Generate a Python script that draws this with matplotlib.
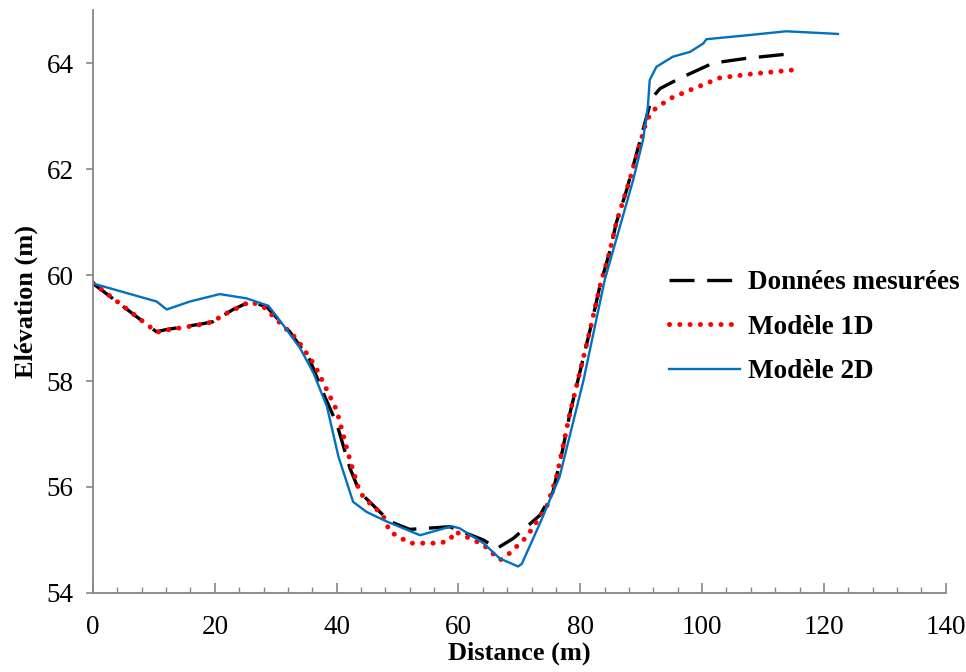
import numpy as np
import matplotlib
matplotlib.use("Agg")
import matplotlib.pyplot as plt
from matplotlib.ticker import MultipleLocator

# Données mesurées (black dashed)
x_mes = [0, 10.4, 12, 18, 19.7, 23, 25.8, 28.5, 32.3, 35.6, 37.8, 40.0, 42.2, 43.8,
         48.7, 52, 58.6, 64.1, 66.3, 69.0, 73.4, 75.5, 77.1, 78.3, 81.6, 83.2, 84.9,
         85.9, 87.6, 91.7, 93.1, 96.3, 101.8, 107.3, 114.9]
y_mes = [59.84, 58.93, 58.97, 59.08, 59.12, 59.35, 59.50, 59.40, 58.93, 58.40, 57.77,
         57.2, 56.35, 55.9, 55.35, 55.2, 55.25, 55.0, 54.84, 55.03, 55.47, 55.9, 56.7,
         57.39, 58.96, 59.78, 60.47, 60.98, 61.6, 63.33, 63.52, 63.71, 64.0, 64.09, 64.18]

# Modèle 1D (red dotted)
x_1d = [0, 10.5, 12, 18, 19.7, 21.4, 24.1, 25.8, 28, 32, 33.4, 36.4, 38.4, 40, 42.2,
        43.8, 44.9, 47.6, 48.7, 52, 57, 58.6, 59.4, 61.3, 64.1, 66.8, 68.4, 71.2, 74.5,
        76.1, 77.2, 78.3, 81.6, 83.2, 84.9, 85.9, 88.1, 90.9, 92, 94.7, 98, 102.9,
        107.8, 114.9]
y_1d = [59.85, 58.92, 58.96, 59.07, 59.12, 59.25, 59.4, 59.5, 59.4, 58.95, 58.8, 58.3,
        57.83, 57.45, 56.5, 55.9, 55.75, 55.47, 55.16, 54.94, 54.94, 55.0, 55.16, 55.06,
        54.91, 54.62, 54.75, 55.06, 55.63, 56.19, 56.79, 57.39, 58.96, 59.78, 60.47,
        60.98, 61.79, 62.92, 63.11, 63.33, 63.49, 63.72, 63.79, 63.87]

# Modèle 2D (blue solid)
x_2d = [0, 10.45, 12.1, 15.9, 20.8, 25.2, 28.8, 31.2, 34.0, 36.2, 38.4, 40.3, 42.7,
        44.9, 48.2, 53.7, 58.9, 60.2, 64.1, 66.8, 69.8, 70.4, 73.4, 76.6, 80.5, 84.0,
        88.7, 90.3, 91.1, 91.4, 92.5, 95.2, 98.0, 100.2, 100.7, 107, 113.8, 122.3]
y_2d = [59.84, 59.5, 59.35, 59.5, 59.64, 59.56, 59.42, 59.06, 58.62, 58.15, 57.52,
        56.57, 55.72, 55.53, 55.35, 55.09, 55.26, 55.22, 54.94, 54.65, 54.5, 54.55,
        55.32, 56.19, 58.0, 59.9, 61.8, 62.55, 63.18, 63.68, 63.93, 64.12, 64.21,
        64.37, 64.45, 64.52, 64.6, 64.55]

plt.rcParams['font.family'] = ['Liberation Serif', 'DejaVu Serif']

fig = plt.figure(figsize=(9.66, 6.72), dpi=100)
ax = fig.add_axes([0.0963, 0.1176, 0.8827, 0.8674])

ax.plot(x_mes, y_mes, color='black', lw=2.4, linestyle=(0, (7.5, 3.8)),
        label='Données mesurées')
ax.plot(x_1d, y_1d, color='#FF0000', lw=3.6, linestyle=(0, (0.01, 2.05)),
        dash_capstyle='round', label='Modèle 1D')
ax.plot(x_2d, y_2d, color='#0070C0', lw=1.7, label='Modèle 2D')

ax.set_xlim(0, 140)
ax.set_ylim(54, 65)
ax.xaxis.set_major_locator(MultipleLocator(20))
ax.xaxis.set_minor_locator(MultipleLocator(4))
ax.set_yticks([54, 56, 58, 60, 62, 64])

for s in ['top', 'right']:
    ax.spines[s].set_visible(False)
for s in ['left', 'bottom']:
    ax.spines[s].set_color('#868686')
    ax.spines[s].set_linewidth(1.3)

ax.tick_params(axis='x', which='major', direction='in', length=7, width=1.2,
               color='#868686', labelsize=19.5, pad=16)
ax.tick_params(axis='x', which='minor', direction='in', length=4, width=1.0,
               color='#868686')
ax.tick_params(axis='y', which='major', direction='out', length=5, width=1.2,
               color='#868686', labelsize=19.5, pad=9)

ax.set_xlabel('Distance (m)', fontsize=19, fontweight='bold', labelpad=1)
ax.set_ylabel('Elévation (m)', fontsize=19, fontweight='bold', labelpad=6)

ax.legend(loc='center left', bbox_to_anchor=(0.676, 0.456), frameon=False,
          prop={'size': 19.5, 'weight': 'bold'}, handlelength=2.6,
          labelspacing=0.72, borderpad=0, borderaxespad=0, handletextpad=0.3)

fig.savefig('out.png', dpi=100)
